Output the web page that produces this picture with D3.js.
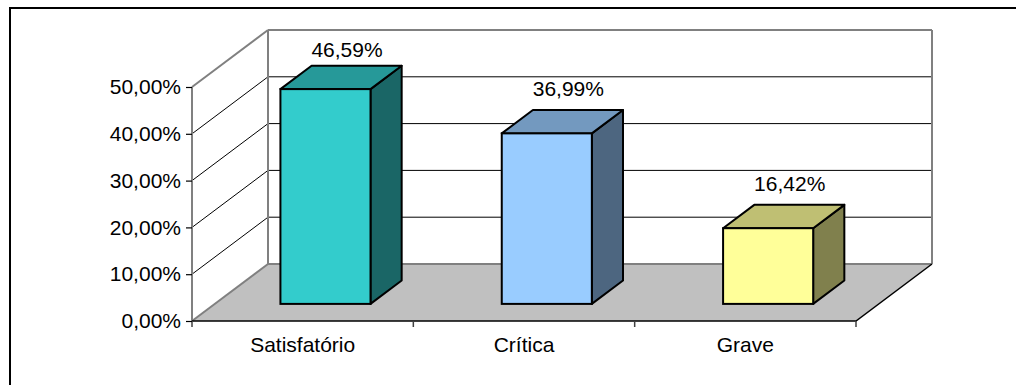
<!DOCTYPE html>
<html>
<head>
<meta charset="utf-8">
<script src="https://cdn.jsdelivr.net/npm/d3@7"></script>
<style>
  body { margin: 0; background: #fff; }
  text { font-family: "Liberation Sans", Arial, sans-serif; fill: #000; }
</style>
</head>
<body>
<svg id="chart"></svg>
<script>
let categories = ["Satisfatório", "Crítica", "Grave"];
let values = [0.4659, 0.3699, 0.1642];
let yTicks = [0, 0.1, 0.2, 0.3, 0.4, 0.5];
let frontColors = ["#33cccc", "#99ccff", "#ffff99"];

let width = 1016;
let height = 385;

// 3d depth of the plot box
let DX = 76;
let DY = 57;
let barFront = 0.30;
let barBack = 0.71;

let svg = d3.select('#chart')
    .attr('width', width)
    .attr('height', height);

let pct = d3.formatLocale({decimal: ",", thousands: ".", grouping: [3], currency: ["", ""]}).format(".2%");

let xScale = d3.scaleBand()
    .domain(categories)
    .range([192, 856])
    .paddingInner(0.593)
    .paddingOuter(0.2965);

let yScale = d3.scaleLinear()
    .domain([0, 0.5])
    .range([321, 87]);

// bars sit a bit deeper, so a little shorter per unit
let barH = d3.scaleLinear()
    .domain([0, 0.5])
    .range([0, 230.5]);

let x0 = xScale.range()[0], x1 = xScale.range()[1];
let yTop = yScale(0.5), y0 = yScale(0);
let line = d3.line();

// outer frame
svg.append('rect')
    .attr('x', 10).attr('y', 8)
    .attr('width', 1200).attr('height', 600)
    .attr('fill', 'none')
    .attr('stroke', '#000')
    .attr('stroke-width', 2);

// floor
svg.append('path')
    .attr('d', line([[x0, y0], [x0 + DX, y0 - DY], [x1 + DX, y0 - DY], [x1, y0]]) + 'Z')
    .attr('fill', '#c0c0c0');

// back wall gridlines
svg.selectAll('.backgrid')
    .data(yTicks.filter(d => d > 0 && d < 0.5))
    .enter()
    .append('line')
    .attr('x1', x0 + DX).attr('x2', x1 + DX)
    .attr('y1', d => yScale(d) - DY).attr('y2', d => yScale(d) - DY)
    .attr('stroke', '#000')
    .attr('stroke-width', 1);

// side wall gridlines
svg.selectAll('.sidegrid')
    .data(yTicks.filter(d => d > 0 && d < 0.5))
    .enter()
    .append('line')
    .attr('x1', x0).attr('x2', x0 + DX)
    .attr('y1', d => yScale(d)).attr('y2', d => yScale(d) - DY)
    .attr('stroke', '#000')
    .attr('stroke-width', 1);

// wall edges (gray)
let gray = '#808080';
let edges = [
    [[x0, y0], [x0, yTop]],
    [[x0, yTop], [x0 + DX, yTop - DY]],
    [[x0, y0], [x0 + DX, y0 - DY]],
    [[x0 + DX, y0 - DY], [x0 + DX, yTop - DY]],
    [[x0 + DX, yTop - DY], [x1 + DX, yTop - DY]],
    [[x1 + DX, yTop - DY], [x1 + DX, y0 - DY]],
    [[x0 + DX, y0 - DY], [x1 + DX, y0 - DY]]
];
svg.selectAll('.edge')
    .data(edges)
    .enter()
    .append('path')
    .attr('d', d => line(d))
    .attr('stroke', gray)
    .attr('stroke-width', 2)
    .attr('fill', 'none');

// floor front and right edge
svg.append('path')
    .attr('d', line([[x0, y0], [x1, y0], [x1 + DX, y0 - DY]]))
    .attr('stroke', '#000')
    .attr('stroke-width', 1.5)
    .attr('fill', 'none');

// category boundary ticks
let step = xScale.step();
svg.selectAll('.ctick')
    .data(d3.range(categories.length + 1))
    .enter()
    .append('line')
    .attr('x1', i => x0 + i * step).attr('x2', i => x0 + i * step)
    .attr('y1', y0).attr('y2', y0 + 6)
    .attr('stroke', '#404040')
    .attr('stroke-width', 1.5);

// y axis
let yAxis = d3.axisLeft(yScale)
    .tickValues(yTicks)
    .tickFormat(pct)
    .tickSize(6)
    .tickSizeOuter(0)
    .tickPadding(5);

let yg = svg.append('g')
    .attr('transform', 'translate(' + x0 + ',0)')
    .call(yAxis);
yg.select('.domain').remove();
yg.selectAll('.tick line').attr('stroke', '#000').attr('stroke-width', 1.2);
yg.selectAll('.tick text')
    .style('font-size', '21px')
    .style('font-family', '"Liberation Sans", Arial, sans-serif')
    .attr('fill', '#000');

// x axis labels
let xAxis = d3.axisBottom(xScale)
    .tickSize(0)
    .tickPadding(16);
let xg = svg.append('g')
    .attr('transform', 'translate(0,' + y0 + ')')
    .call(xAxis);
xg.select('.domain').remove();
xg.selectAll('.tick text')
    .style('font-size', '21px')
    .style('font-family', '"Liberation Sans", Arial, sans-serif')
    .attr('fill', '#000');

// bars
let bars = categories.map((c, i) => {
    let bx = xScale(c) + barFront * DX;
    let bw = xScale.bandwidth();
    let by = y0 - barFront * DY;
    let top = by - barH(values[i]);
    let ddx = (barBack - barFront) * DX;
    let ddy = (barBack - barFront) * DY;
    return {c, i, bx, bw, by, top, ddx, ddy, v: values[i]};
});

let shade = (col, k) => {
    let c = d3.rgb(col);
    return d3.rgb(c.r * k, c.g * k, c.b * k).toString();
};

let bg = svg.selectAll('.bar')
    .data(bars)
    .enter()
    .append('g')
    .attr('class', 'bar');

bg.append('path')
    .attr('d', d => line([[d.bx + d.bw, d.by], [d.bx + d.bw + d.ddx, d.by - d.ddy],
        [d.bx + d.bw + d.ddx, d.top - d.ddy], [d.bx + d.bw, d.top]]) + 'Z')
    .attr('fill', d => shade(frontColors[d.i], 0.5))
    .attr('stroke', '#000').attr('stroke-width', 2).attr('stroke-linejoin', 'round');

bg.append('path')
    .attr('d', d => line([[d.bx, d.top], [d.bx + d.ddx, d.top - d.ddy],
        [d.bx + d.bw + d.ddx, d.top - d.ddy], [d.bx + d.bw, d.top]]) + 'Z')
    .attr('fill', d => shade(frontColors[d.i], 0.75))
    .attr('stroke', '#000').attr('stroke-width', 2).attr('stroke-linejoin', 'round');

bg.append('rect')
    .attr('x', d => d.bx)
    .attr('y', d => d.top)
    .attr('width', d => d.bw)
    .attr('height', d => d.by - d.top)
    .attr('fill', d => frontColors[d.i])
    .attr('stroke', '#000').attr('stroke-width', 2);

// value labels, kept inside the plot top
bg.append('text')
    .attr('x', d => d.bx + d.bw / 2 + d.ddx / 2 + 6)
    .attr('y', d => Math.max(d.top - d.ddy - 14, yTop - DY + 27))
    .attr('text-anchor', 'middle')
    .style('font-size', '21px')
    .text(d => pct(d.v));
</script>
</body>
</html>
